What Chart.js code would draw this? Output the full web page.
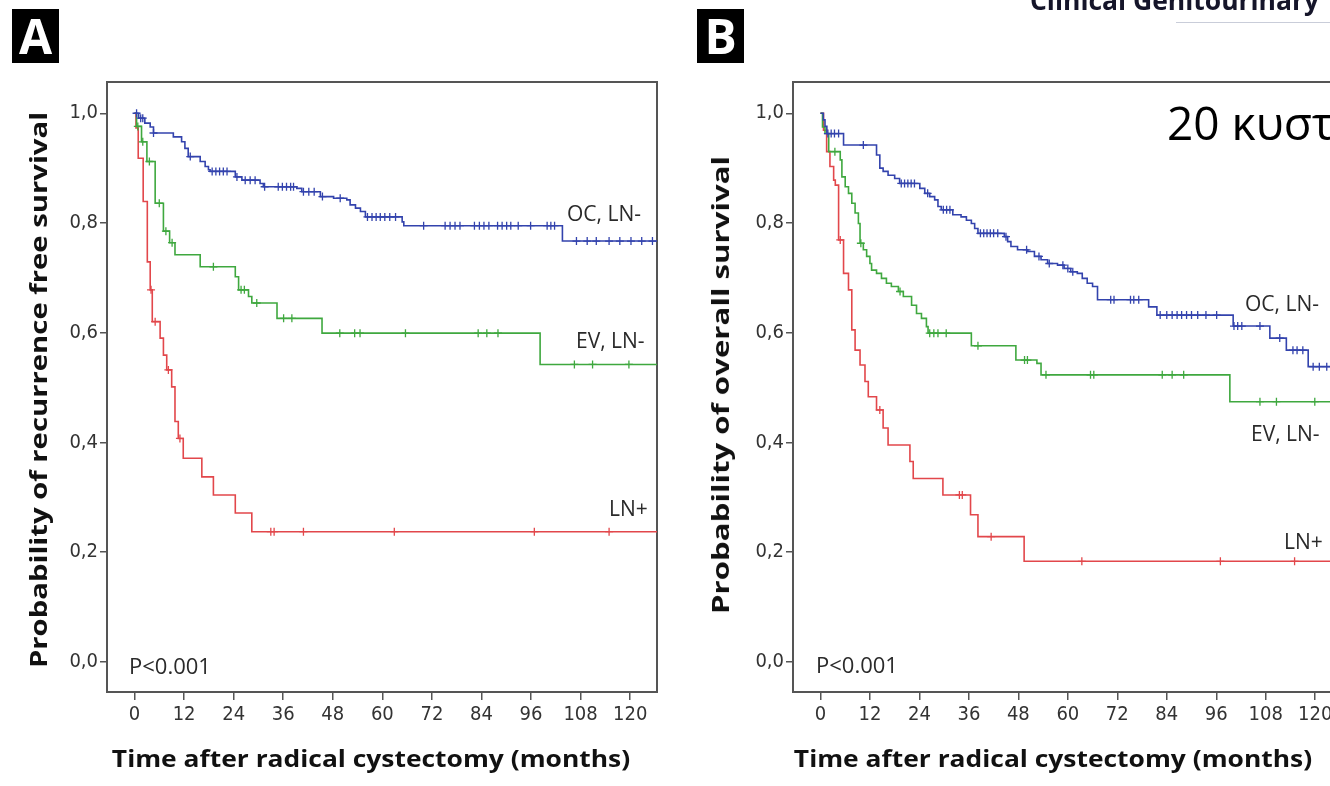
<!DOCTYPE html>
<html><head><meta charset="utf-8">
<script src="https://cdn.jsdelivr.net/npm/chart.js@4.4.1/dist/chart.umd.min.js"></script>
<style>
html,body{margin:0;padding:0;background:#fff;}
body{width:1330px;height:786px;overflow:hidden;position:relative;font-family:'Open Sans',sans-serif;}
canvas{position:absolute;top:0;}
#cA{left:0;}
#cB{left:680px;}
.lab{position:absolute;white-space:nowrap;color:#2a2a2a;line-height:1;transform:translateY(-50%);font-size:21px;}
.pv{font-size:22px;}
.panel{position:absolute;top:9px;width:47px;height:54px;background:#000;color:#fff;font:bold 48px 'Open Sans',sans-serif;display:flex;align-items:center;justify-content:center;line-height:1;}
.hdr{position:absolute;left:1030px;top:-14px;font:bold 27px 'Open Sans',sans-serif;color:#15152a;white-space:nowrap;line-height:1;transform-origin:0 0;transform:scaleX(0.98);}
.hline{position:absolute;left:1176px;top:22px;width:154px;height:1px;background:#c9cdd9;}
.greek{position:absolute;left:1167px;top:99px;font:46px 'Open Sans',sans-serif;color:#000;white-space:nowrap;line-height:1;}
.ttl{position:absolute;white-space:nowrap;font:bold 24px 'Open Sans',sans-serif;color:#111;line-height:1;}
</style></head><body>
<canvas id="cA" width="680" height="786"></canvas>
<canvas id="cB" width="680" height="786"></canvas>
<div class="panel" style="left:12px">A</div>
<div class="panel" style="left:697px">B</div>
<div class="hdr">Clinical Genitourinary</div>
<div class="hline"></div>
<div class="greek">20 κυστ</div>
<div class="lab" style="left:567px;top:213px">OC, LN-</div>
<div class="lab" style="left:576px;top:340px">EV, LN-</div>
<div class="lab" style="left:609px;top:508px">LN+</div>
<div class="lab pv" style="left:129px;top:665px">P&lt;0.001</div>
<div class="lab" style="left:1245px;top:303px">OC, LN-</div>
<div class="lab" style="left:1251px;top:433px">EV, LN-</div>
<div class="lab" style="left:1284px;top:541px">LN+</div>
<div class="lab pv" style="left:816px;top:664px">P&lt;0.001</div>
<div class="ttl" style="left:371px;top:758px;transform:translate(-50%,-50%) scaleX(1.1)">Time after radical cystectomy (months)</div>
<div class="ttl" style="left:1053px;top:758px;transform:translate(-50%,-50%) scaleX(1.1)">Time after radical cystectomy (months)</div>
<div class="ttl" style="left:38px;top:390px;transform:translate(-50%,-50%) rotate(-90deg) scaleX(1.22)">Probability of recurrence free survival</div>
<div class="ttl" style="left:720px;top:385px;transform:translate(-50%,-50%) rotate(-90deg) scaleX(1.3)">Probability of overall survival</div>
<script>
// ---- axis ticks ----
const xTickVals = [0,12,24,36,48,60,72,84,96,108,120];
const xTickLabels = ['0','12','24','36','48','60','72','84','96','108','120'];
const yTickVals = [0,0.2,0.4,0.6,0.8,1.0];
const yTickLabels = ['0,0','0,2','0,4','0,6','0,8','1,0'];

// ---- Panel A: recurrence free survival ----
const A_OC_t = [0,1.0,2.5,3.8,4.6,9.4,11.4,12.2,13.0,15.9,17.1,17.9,18.3,24.4,26.0,30.4,31.2,39.3,40.5,45.0,48.2,51.4,52.2,53.5,54.7,55.9,64.8,65.2,103.6,126.5];
const A_OC_s = [1.0,0.991,0.982,0.975,0.964,0.957,0.948,0.936,0.921,0.912,0.903,0.897,0.894,0.884,0.878,0.872,0.866,0.863,0.857,0.848,0.845,0.842,0.833,0.827,0.821,0.811,0.802,0.795,0.767,0.767];
const A_OC_c = [0.5,1.5,2.0,4.6,13.5,18.8,19.7,20.6,21.5,22.4,24.8,26.8,28.0,29.2,31.5,34.8,35.8,36.8,37.8,38.5,40.9,42.2,43.5,45.5,49.8,56.4,57.5,58.5,59.5,60.6,61.8,63.2,70.0,75.2,76.4,77.6,78.8,82.3,83.5,84.6,85.8,87.9,89.0,90.1,91.1,92.9,95.9,99.9,100.8,101.7,107.0,109.6,111.8,114.9,117.5,120.2,122.8,125.4];

const A_EV_t = [0,0.5,1.7,3.0,5.0,7.0,8.5,9.8,15.9,24.4,25.2,27.6,28.4,34.5,45.4,98.2,126.5];
const A_EV_s = [1.0,0.976,0.948,0.912,0.836,0.785,0.764,0.742,0.720,0.702,0.678,0.666,0.654,0.626,0.599,0.542,0.542];
const A_EV_c = [0.8,2.0,3.6,6.0,7.6,9.1,19.1,25.8,26.6,29.6,36.1,38.1,49.7,53.3,54.6,65.6,83.2,85.3,88.0,106.5,110.9,119.7];

const A_LN_t = [0,0.36,0.9,2.1,3.1,3.8,4.3,6.2,7.0,7.8,9.0,9.8,10.6,11.8,16.3,19.1,24.4,28.4,126.5];
const A_LN_s = [1.0,0.973,0.918,0.839,0.729,0.678,0.620,0.590,0.559,0.532,0.501,0.438,0.407,0.371,0.337,0.304,0.271,0.237,0.237];
const A_LN_c = [4.0,5.0,8.2,11.0,33.0,33.8,40.9,62.9,96.8,114.9];

// ---- Panel B: overall survival ----
const B_OC_t = [0,0.7,1.1,1.55,5.6,13.6,14.4,15.2,16.4,18.0,19.2,24.1,25.3,26.5,27.7,28.5,29.3,32.1,34.1,35.4,36.6,37.4,38.2,44.6,45.4,46.2,47.8,50.3,51.9,53.5,55.1,57.5,59.1,60.7,62.3,63.5,64.7,66.0,67.2,79.6,81.6,100.1,109.0,113.0,118.3,126.5];
const B_OC_s = [1.0,0.988,0.976,0.963,0.942,0.924,0.900,0.894,0.887,0.881,0.872,0.863,0.854,0.848,0.842,0.830,0.824,0.815,0.811,0.805,0.799,0.790,0.781,0.775,0.766,0.757,0.751,0.748,0.739,0.733,0.726,0.723,0.717,0.711,0.708,0.699,0.690,0.684,0.660,0.647,0.632,0.612,0.590,0.568,0.538,0.538];
const B_OC_c = [1.8,2.6,3.4,4.4,10.4,19.6,20.4,21.2,22.0,22.8,26.0,29.8,30.6,31.4,38.8,39.6,40.4,41.2,42.0,43.0,45.0,50.0,53.0,55.5,58.8,60.0,61.2,70.4,71.2,75.2,76.0,77.2,82.4,84.0,85.3,86.5,87.6,88.8,90.0,91.5,93.5,96.1,100.3,101.2,102.2,106.6,111.4,114.6,115.6,117.0,119.5,121.0,122.8];

const B_EV_t = [0,0.5,1.1,2.0,4.8,5.2,6.0,6.8,7.6,8.4,9.2,9.6,10.4,11.2,12.0,12.4,13.6,14.8,16.0,17.2,18.9,20.1,22.1,23.3,24.5,25.7,26.1,36.6,47.4,52.5,53.5,99.3,126.5];
const B_EV_s = [1.0,0.975,0.963,0.930,0.915,0.884,0.866,0.854,0.836,0.818,0.799,0.763,0.751,0.739,0.726,0.714,0.708,0.699,0.690,0.684,0.675,0.666,0.650,0.635,0.626,0.611,0.599,0.576,0.550,0.544,0.523,0.474,0.474];
const B_EV_c = [3.5,9.8,19.3,26.5,27.5,28.5,30.5,38.2,49.5,50.2,54.7,65.5,66.3,82.9,85.3,88.1,106.6,110.6,119.9];

const B_LN_t = [0,0.74,1.5,2.3,3.2,3.6,4.4,5.6,6.8,7.6,8.4,9.6,10.8,11.6,13.6,15.2,16.4,21.7,22.5,29.7,36.4,38.2,49.4,126.5];
const B_LN_s = [1.0,0.969,0.930,0.903,0.878,0.869,0.769,0.708,0.678,0.605,0.568,0.541,0.511,0.483,0.459,0.426,0.395,0.365,0.334,0.304,0.268,0.228,0.183,0.183];
const B_LN_c = [4.8,14.4,33.7,34.4,41.4,63.4,97.0,115.0];

// ---- styles ----
const COL_OC = '#3343ad';
const COL_EV = '#3fa83f';
const COL_LN = '#e2474b';
const FRAME = '#555555';
const X_MIN = -6.66, X_MAX = 126.5;
const Y_MIN = -0.0553, Y_MAX = 1.057;
const TICKFONT = "'Liberation Sans Narrow','DejaVu Sans Condensed','Roboto','Open Sans',sans-serif";

function km(t, s){ return t.map((v,i)=>({x:v, y:s[i]})); }
function censorMarks(t, s, c){
  return c.map(ct => { let y = s[0]; for (let i=0;i<t.length;i++){ if (t[i] <= ct) y = s[i]; } return {x:ct, y:y}; });
}
function series(t, s, c, col){
  return [
    {type:'line', data:km(t,s), borderColor:col, borderWidth:1.6, stepped:true, pointRadius:0, fill:false},
    {type:'scatter', data:censorMarks(t,s,c), pointStyle:'cross', pointRadius:4, borderColor:col, backgroundColor:col, borderWidth:1.3, showLine:false}
  ];
}
function options(yWidth, padRight){
  return {
    responsive:false, animation:false, devicePixelRatio:1,
    layout:{padding:{left:0, top:82, right:padRight, bottom:0}},
    plugins:{legend:{display:false}, tooltip:{enabled:false}},
    scales:{
      x:{type:'linear', position:'bottom', min:X_MIN, max:X_MAX,
        afterBuildTicks: sc => { sc.ticks = xTickVals.map(v=>({value:v})); },
        afterFit: sc => { sc.height = 786 - 692; },
        grid:{display:true, drawOnChartArea:false, drawTicks:true, tickLength:8, color:FRAME, lineWidth:1.5},
        border:{display:true, color:FRAME, width:2},
        ticks:{color:'#333', font:{family:TICKFONT, size:20}, padding:3, maxRotation:0, autoSkip:false, callback:(v,i)=>xTickLabels[i]}
      },
      y:{type:'linear', position:'left', min:Y_MIN, max:Y_MAX,
        afterBuildTicks: sc => { sc.ticks = yTickVals.map(v=>({value:v})); },
        afterFit: sc => { sc.width = yWidth; },
        grid:{display:true, drawOnChartArea:false, drawTicks:true, tickLength:7, color:FRAME, lineWidth:1.5},
        border:{display:true, color:FRAME, width:2},
        ticks:{color:'#333', font:{family:TICKFONT, size:20}, padding:2, callback:(v,i)=>yTickLabels[i]}
      },
      x2:{type:'linear', position:'top', min:X_MIN, max:X_MAX, grid:{display:false}, ticks:{display:false},
        border:{display:true, color:FRAME, width:2}, afterFit: sc => { sc.height = 0; }},
      y2:{type:'linear', position:'right', min:Y_MIN, max:Y_MAX, grid:{display:false}, ticks:{display:false},
        border:{display:true, color:FRAME, width:2}, afterFit: sc => { sc.width = 0; }}
    }
  };
}

new Chart(document.getElementById('cA'), {
  data:{datasets:[
    ...series(A_OC_t, A_OC_s, A_OC_c, COL_OC),
    ...series(A_EV_t, A_EV_s, A_EV_c, COL_EV),
    ...series(A_LN_t, A_LN_s, A_LN_c, COL_LN)
  ]},
  options: options(107, 23)
});
new Chart(document.getElementById('cB'), {
  data:{datasets:[
    ...series(B_OC_t, B_OC_s, B_OC_c, COL_OC),
    ...series(B_EV_t, B_EV_s, B_EV_c, COL_EV),
    ...series(B_LN_t, B_LN_s, B_LN_c, COL_LN)
  ]},
  options: options(113, 18)
});
</script>
</body></html>
